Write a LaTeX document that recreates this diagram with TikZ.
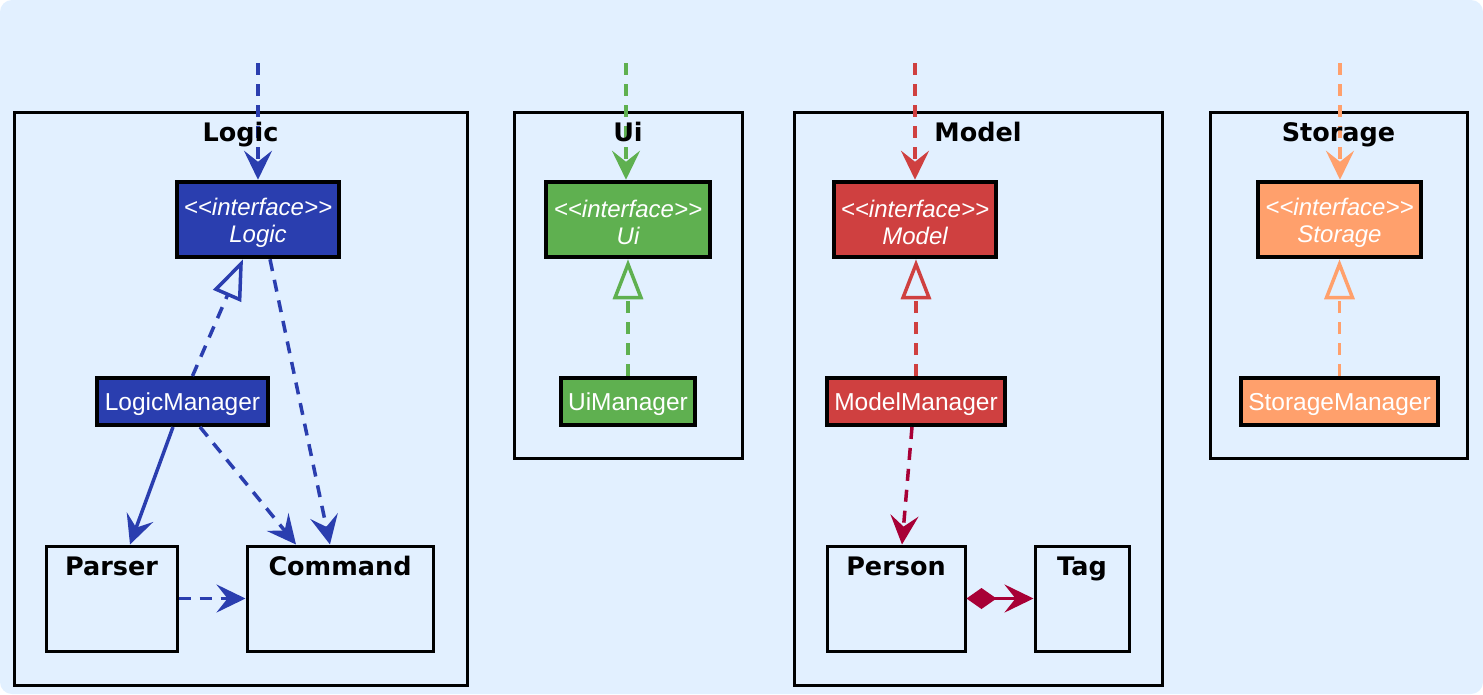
\documentclass[tikz,border=0pt]{standalone}
\usepackage{fontspec}
\setmainfont{Liberation Sans}
\newfontfamily\titlefont{DejaVu Sans}
\usetikzlibrary{arrows.meta}
\definecolor{bgblue}{RGB}{226,240,255}
\definecolor{logicblue}{RGB}{42,62,175}
\definecolor{uigreen}{RGB}{95,176,80}
\definecolor{modelred}{RGB}{207,64,64}
\definecolor{storageorange}{RGB}{255,160,108}
\definecolor{linkcrimson}{RGB}{168,0,54}
\newcommand{\ifacetag}{\rule{0pt}{23pt}<\kern0pt<interface>\kern0pt>}

\begin{document}
\begin{tikzpicture}[x=1pt,y=-1pt,
    pkg/.style={draw=black,line width=3pt,inner sep=0},
    pkgname/.style={anchor=base,inner sep=0,font=\titlefont\bfseries\fontsize{25.5}{28}\selectfont},
    iface/.style={draw=black,line width=4.5pt,fill=#1,text=white,align=center,inner sep=0,
      minimum height=75,font=\itshape\fontsize{24}{27}\selectfont},
    mgr/.style={draw=black,line width=4pt,fill=#1,text=white,inner sep=0,
      minimum height=47,text height=23.5pt,text depth=5.5pt,font=\fontsize{24.5}{27}\selectfont},
    classbox/.style={draw=black,line width=3pt,inner sep=0,minimum height=105},
    dep/.style={draw=#1,line width=3.5pt,dash pattern=on 12pt off 9pt,
      -{Stealth[length=29pt,width=28pt,inset=11pt]}},
    assoc/.style={draw=#1,line width=3.5pt,-{Stealth[length=29pt,width=28pt,inset=11pt]}},
    real/.style={draw=#1,line width=3.5pt,dash pattern=on 12pt off 9pt,
      -{Triangle[open,length=40pt,width=30pt]}}]
        \useasboundingbox (0,0) rectangle (1483,694);
        \fill[white] (0,0) rectangle (1483,694);
        \fill[bgblue,rounded corners=12] (0,0) rectangle (1483,694);

        \node[pkg,minimum width=453,minimum height=573] (logicpkg) at (240.5,398.5) {};
        \node[pkg,minimum width=228,minimum height=346] (uipkg) at (628,285) {};
        \node[pkg,minimum width=368,minimum height=573] (modelpkg) at (978,398.5) {};
        \node[pkg,minimum width=257,minimum height=346] (storagepkg) at (1338.5,285) {};

        \node[iface=logicblue,minimum width=162] (logic) at (258,219.5) {\ifacetag\\Logic};
        \node[iface=uigreen,minimum width=164] (ui) at (628,219.5) {\ifacetag\\Ui};
        \node[iface=modelred,minimum width=162] (model) at (915,219.5) {\ifacetag\\Model};
        \node[iface=storageorange,minimum width=163] (storage) at (1339.5,219.5) {\ifacetag\\Storage};

        \node[mgr=logicblue,minimum width=171] (logicmgr) at (182.5,401.5) {LogicManager};
        \node[mgr=uigreen,minimum width=134] (uimgr) at (628,401.5) {UiManager};
        \node[mgr=modelred,minimum width=178] (modelmgr) at (916,401.5) {ModelManager};
        \node[mgr=storageorange,minimum width=197] (storagemgr) at (1339.5,401.5) {StorageManager};

        \node[classbox,minimum width=131] (parser) at (111.5,598.5) {};
        \node[classbox,minimum width=186] (command) at (340,598.5) {};
        \node[classbox,minimum width=138] (person) at (896,598.5) {};
        \node[classbox,minimum width=94] (tag) at (1082,598.5) {};
        \node[pkgname] at ([yshift=-31pt]parser.north) {Parser};
        \node[pkgname] at ([yshift=-31pt]command.north) {Command};
        \node[pkgname] at ([yshift=-31pt]person.north) {Person};
        \node[pkgname] at ([yshift=-31pt]tag.north) {Tag};

        \coordinate (logicin) at (258,63);
        \coordinate (uiin) at (626,63);
        \coordinate (modelin) at (915,63);
        \coordinate (storagein) at (1340,63);

        \draw[dep=logicblue] (logicin) -- (logic.north);
        \draw[dep=logicblue] ([xshift=12pt]logic.south) -- ([xshift=-10pt]command.north);
        \draw[real=logicblue] ([xshift=10pt]logicmgr.north) -- ([xshift=-15pt]logic.south);
        \draw[assoc=logicblue] ([xshift=-9.5pt]logicmgr.south) -- ([xshift=18.5pt]parser.north);
        \draw[dep=logicblue] ([xshift=17.5pt]logicmgr.south) -- ([xshift=-44pt]command.north);
        \draw[dep=logicblue] (parser.east) -- (command.west);

        \draw[dep=uigreen] (uiin) -- ([xshift=-2pt]ui.north);
        \draw[real=uigreen] (uimgr.north) -- (ui.south);

        \draw[dep=modelred] (modelin) -- (model.north);
        \draw[real=modelred] (modelmgr.north) -- ([xshift=1pt]model.south);
        \draw[dep=linkcrimson] ([xshift=-4pt]modelmgr.south) -- ([xshift=6pt]person.north);
        \draw[assoc=linkcrimson,{Diamond[length=30pt,width=21pt]}-{Stealth[length=29pt,width=28pt,inset=11pt]}] (person.east) -- (tag.west);

        \draw[dep=storageorange] (storagein) -- ([xshift=0.5pt]storage.north);
        \draw[real=storageorange] (storagemgr.north) -- (storage.south);

        \node[pkgname] at ([yshift=-31pt]logicpkg.north) {Logic};
        \node[pkgname] at ([yshift=-31pt]uipkg.north) {Ui};
        \node[pkgname] at ([yshift=-31pt]modelpkg.north) {Model};
        \node[pkgname] at ([yshift=-31pt]storagepkg.north) {Storage};
      \end{tikzpicture}
\end{document}
